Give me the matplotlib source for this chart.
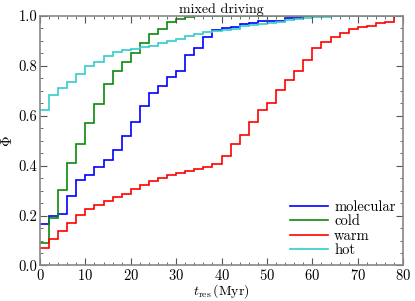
import numpy as np
import matplotlib
matplotlib.use("Agg")
import matplotlib.pyplot as plt
from matplotlib.ticker import MultipleLocator
from matplotlib.lines import Line2D

bin_width = 2.0
molecular = [0.165, 0.197, 0.207, 0.278, 0.344, 0.363, 0.393, 0.424, 0.463, 0.518,
             0.575, 0.641, 0.692, 0.721, 0.756, 0.778, 0.842, 0.871, 0.915, 0.945,
             0.95, 0.955, 0.966, 0.97, 0.98, 0.98, 0.98, 0.99, 0.99, 1.0,
             1.0, 1.0, 1.0, 1.0, 1.0, 1.0, 1.0, 1.0, 1.0, 1.0]
cold = [0.092, 0.191, 0.304, 0.41, 0.486, 0.57, 0.648, 0.729, 0.78, 0.817,
        0.851, 0.89, 0.927, 0.947, 0.977, 0.988, 0.995, 1.0, 1.0, 1.0,
        1.0, 1.0, 1.0, 1.0, 1.0, 1.0, 1.0, 1.0, 1.0, 1.0,
        1.0, 1.0, 1.0, 1.0, 1.0, 1.0, 1.0, 1.0, 1.0, 1.0]
warm = [0.07, 0.105, 0.137, 0.171, 0.203, 0.227, 0.244, 0.259, 0.274, 0.287,
        0.307, 0.323, 0.337, 0.35, 0.363, 0.372, 0.38, 0.386, 0.396, 0.406,
        0.44, 0.486, 0.522, 0.576, 0.623, 0.652, 0.705, 0.742, 0.78, 0.822,
        0.871, 0.894, 0.914, 0.931, 0.947, 0.955, 0.961, 0.971, 0.977, 1.0]
hot = [0.625, 0.685, 0.712, 0.736, 0.769, 0.798, 0.814, 0.838, 0.855, 0.862,
       0.869, 0.874, 0.88, 0.891, 0.898, 0.907, 0.918, 0.927, 0.935, 0.94,
       0.945, 0.948, 0.958, 0.962, 0.968, 0.972, 0.977, 0.983, 0.987, 0.99,
       0.995, 0.997, 1.0, 1.0, 1.0, 1.0, 1.0, 1.0, 1.0, 1.0]

series = [("molecular", molecular, "#0000ff"),
          ("cold", cold, "#0a8a0a"),
          ("warm", warm, "#ff0000"),
          ("hot", hot, "#33cccc")]

plt.rcParams['font.family'] = ['cmr10', 'DejaVu Serif']
plt.rcParams['mathtext.fontset'] = 'cm'
plt.rcParams['axes.formatter.use_mathtext'] = True

fig = plt.figure(figsize=(4.15, 3.01), dpi=100)
ax = fig.add_axes([0.0964, 0.118, 0.875, 0.829])

for name, vals, col in series:
    edges = np.arange(len(vals) + 1) * bin_width
    ax.stairs(vals, edges, color=col, lw=1.2, label=name, baseline=None)

ax.set_xlim(0, 80)
ax.set_ylim(0, 1.0)
ax.xaxis.set_major_locator(MultipleLocator(10))
ax.xaxis.set_minor_locator(MultipleLocator(2))
ax.yaxis.set_major_locator(MultipleLocator(0.2))
ax.yaxis.set_minor_locator(MultipleLocator(0.05))
ax.yaxis.set_major_formatter(matplotlib.ticker.FormatStrFormatter('%.1f'))
ax.tick_params(which='both', direction='in', top=True, right=True, colors='#555555',
               labelcolor='black', labelsize=10.5, pad=2)
ax.tick_params(axis='x', which='both', pad=1.5)
ax.tick_params(which='major', length=5, width=0.8)
ax.tick_params(which='minor', length=2.5, width=0.6)
for s in ax.spines.values():
    s.set_color('#888888')
    s.set_linewidth(1.2)

ax.set_xlabel(r'$t_{\rm res}\,$(Myr)', fontsize=10, labelpad=0)
ax.set_ylabel(r'$\Phi$', fontsize=10.5, labelpad=2)
ax.set_title('mixed driving', fontsize=10, pad=0)

handles = [Line2D([], [], color=c, lw=1.2) for _, _, c in series]
ax.legend(handles, [n for n, _, _ in series], loc='lower right', frameon=False,
          fontsize=10.5, handlelength=2.6, handletextpad=0.4, labelspacing=0.05,
          borderaxespad=0.0, bbox_to_anchor=(0.995, 0.01))

fig.savefig("out.png", dpi=100)
